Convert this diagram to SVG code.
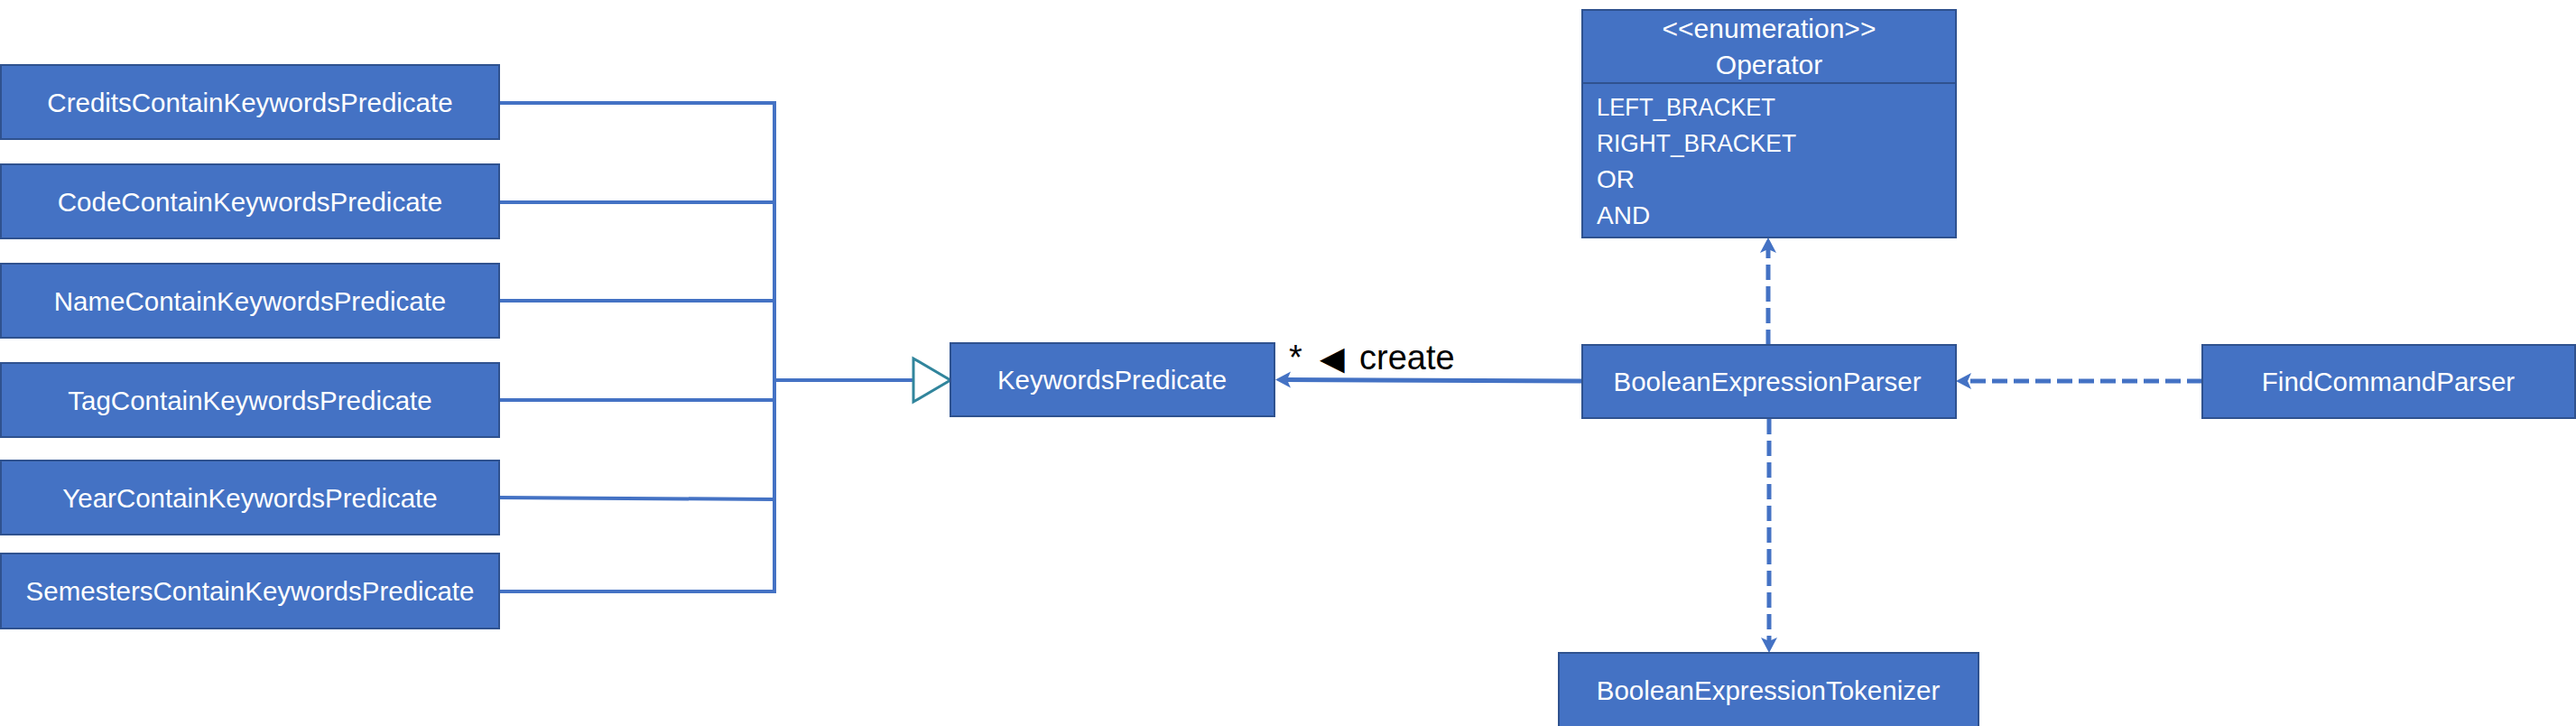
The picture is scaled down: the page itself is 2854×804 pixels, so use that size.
<svg xmlns="http://www.w3.org/2000/svg" width="2854" height="804" viewBox="0 0 2854 804">
<defs>
<style>
.box{fill:#4472C4;stroke:#2F528F;stroke-width:2}
.lbl{font-family:"Liberation Sans",Arial,sans-serif;font-size:29.5px;fill:#FFFFFF;text-anchor:middle}
.item{font-family:"Liberation Sans",Arial,sans-serif;font-size:28px;fill:#FFFFFF}
.hdr{font-family:"Liberation Sans",Arial,sans-serif;font-size:30px;fill:#FFFFFF;text-anchor:middle}
.gen{fill:none;stroke:#4472C4;stroke-width:4}
.solid{fill:none;stroke:#4472C4;stroke-width:5}
.dash{fill:none;stroke:#4472C4;stroke-width:5;stroke-dasharray:17 7}
.tri{fill:#FFFFFF;stroke:#31859C;stroke-width:3}
.note{font-family:"Liberation Sans",Arial,sans-serif;font-size:38px;fill:#000000}
</style>
<marker id="ah" markerUnits="userSpaceOnUse" markerWidth="40" markerHeight="40" refX="0" refY="0" orient="auto" overflow="visible">
<path d="M-4,-9 L13,0 L-4,9 L0,0 Z" fill="#4472C4"/>
</marker>
</defs>

<g id="connectors">
<path class="gen" d="M553,114 H858"/>
<path class="gen" d="M553,224 H858"/>
<path class="gen" d="M553,333 H858"/>
<path class="gen" d="M553,443 H858"/>
<path class="gen" d="M553,551 L858,553"/>
<path class="gen" d="M553,655 H858"/>
<path class="gen" d="M858,112 V657"/>
<path class="gen" d="M858,421 H1012"/>
<polygon class="tri" points="1012,397 1053,421 1012,445"/>
<path class="solid" d="M1753,422 L1426,420.5" marker-end="url(#ah)"/>
<path class="dash" d="M1959,382 V276" marker-end="url(#ah)"/>
<path class="dash" d="M2440,422 H2180" marker-end="url(#ah)"/>
<path class="dash" d="M1960,464 V710" marker-end="url(#ah)"/>
<text class="note" x="1428" y="409">*</text>
<text class="note" x="1462" y="409"><tspan font-family="DejaVu Sans" font-size="36">◀</tspan><tspan x="1506">create</tspan></text>
</g>

<g id="credits">
<rect class="box" x="1" y="72" width="552" height="82"/>
<text class="lbl" x="277" y="124">CreditsContainKeywordsPredicate</text>
</g>
<g id="code">
<rect class="box" x="1" y="182" width="552" height="82"/>
<text class="lbl" x="277" y="234">CodeContainKeywordsPredicate</text>
</g>
<g id="name">
<rect class="box" x="1" y="292" width="552" height="82"/>
<text class="lbl" x="277" y="344">NameContainKeywordsPredicate</text>
</g>
<g id="tag">
<rect class="box" x="1" y="402" width="552" height="82"/>
<text class="lbl" x="277" y="454">TagContainKeywordsPredicate</text>
</g>
<g id="year">
<rect class="box" x="1" y="510" width="552" height="82"/>
<text class="lbl" x="277" y="562">YearContainKeywordsPredicate</text>
</g>
<g id="semesters">
<rect class="box" x="1" y="613" width="552" height="83"/>
<text class="lbl" x="277" y="665">SemestersContainKeywordsPredicate</text>
</g>

<g id="keywordsPredicate">
<rect class="box" x="1053" y="380" width="359" height="81"/>
<text class="lbl" x="1232" y="431">KeywordsPredicate</text>
</g>

<g id="operator">
<rect class="box" x="1753" y="11" width="414" height="252"/>
<line x1="1753" y1="92" x2="2167" y2="92" stroke="#2F528F" stroke-width="2"/>
<text class="hdr" x="1960" y="42">&lt;&lt;enumeration&gt;&gt;</text>
<text class="hdr" x="1960" y="82">Operator</text>
<text class="item" x="1769" y="128" textLength="198" lengthAdjust="spacingAndGlyphs">LEFT_BRACKET</text>
<text class="item" x="1769" y="168" textLength="221" lengthAdjust="spacingAndGlyphs">RIGHT_BRACKET</text>
<text class="item" x="1769" y="208">OR</text>
<text class="item" x="1769" y="248">AND</text>
</g>

<g id="booleanExpressionParser">
<rect class="box" x="1753" y="382" width="414" height="81"/>
<text class="lbl" x="1958" y="433">BooleanExpressionParser</text>
</g>

<g id="findCommandParser">
<rect class="box" x="2440" y="382" width="413" height="81"/>
<text class="lbl" x="2646" y="433">FindCommandParser</text>
</g>

<g id="booleanExpressionTokenizer">
<rect class="box" x="1727" y="723" width="465" height="84"/>
<text class="lbl" x="1959" y="775">BooleanExpressionTokenizer</text>
</g>
</svg>
